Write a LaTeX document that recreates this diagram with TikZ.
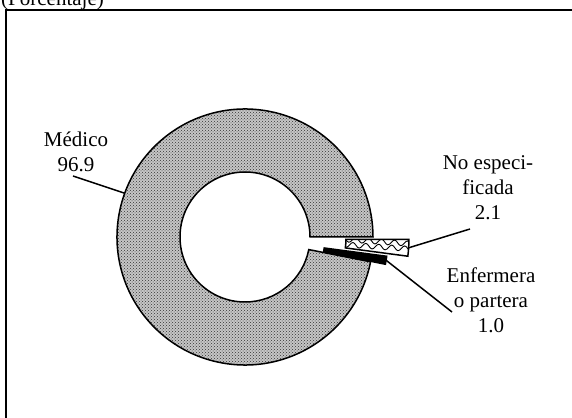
\documentclass[tikz,border=0pt]{standalone}
\usepackage{fontspec}
\setmainfont{Liberation Serif}
\usetikzlibrary{calc,patterns,decorations.pathmorphing}

\tikzset{
    lbl/.style={font=\fontsize{21}{25}\selectfont, align=center, inner sep=0pt},
    leader/.style={line width=1.5pt},
    slice/.style={line width=1.5pt, line join=miter},
    wave/.style={line width=0.9pt, decorate, decoration={snake, amplitude=2.6pt, segment length=13pt}}
}

\begin{document}
\begin{tikzpicture}[x=1pt,y=1pt]
            \useasboundingbox (0,0) rectangle (572,417);
            \clip (0,0) rectangle (572,417);

            % Title, cut at the top
            \node[lbl, anchor=base west] (title) at (1,411) {(Porcentaje)};

            % Frame
            \draw[line width=2pt] (6,-20) -- (6,407) -- (590,407);

            \coordinate (C) at (245,180);

            % Medico
            \draw[slice, shift={(C)}, preaction={fill=gray!45}, pattern=crosshatch dots, pattern color=black!80]
                (0:65) arc (0:348.84:65) -- (348.84:128) arc (348.84:0:128) -- cycle;

            % No especificada, pulled out
            \begin{scope}[shift={(C)}, shift={(-3.78:36)}]
                \begin{scope}
                    \clip (0:65) arc (0:-7.56:65) -- (-7.56:128) arc (-7.56:0:128) -- cycle;
                    \fill[white] (0:65) arc (0:-7.56:65) -- (-7.56:128) arc (-7.56:0:128) -- cycle;
                    \draw[wave, rotate=-3.78] (55,-1) -- (140,-1) (55,1.6) -- (140,1.6);
                \end{scope}
                \draw[slice] (0:65) arc (0:-7.56:65) -- (-7.56:128) arc (-7.56:0:128) -- cycle;
            \end{scope}

            % Enfermera o partera, pulled out
            \draw[slice, fill=black, shift={(C)}, shift={(-9.36:15)}]
                (-7.56:65) arc (-7.56:-11.16:65) -- (-11.16:128) arc (-11.16:-7.56:128) -- cycle;

            % Labels
            \node[lbl, anchor=north] (med) at (76,285) {M\'edico\\96.9};
            \node[lbl, anchor=north] (noesp) at (488,262) {No especi-\\ficada\\2.1};
            \node[lbl, anchor=north] (enf) at (491,149) {Enfermera\\o partera\\1.0};

            % Leader lines
            \coordinate (medpt) at ($(C)+(160:128)$);
            \coordinate (noesppt) at ($(C)+(-3.78:164)$);
            \coordinate (enfpt) at ($(C)+(-9.36:143)$);
            \coordinate (medtip) at (73,241);
            \coordinate (noesptip) at (470,188);
            \coordinate (enftip) at (452,105);

            \draw[leader] (medtip) -- (medpt);
            \draw[leader] (noesppt) -- (noesptip);
            \draw[leader] (enfpt) -- (enftip);
\end{tikzpicture}
\end{document}
